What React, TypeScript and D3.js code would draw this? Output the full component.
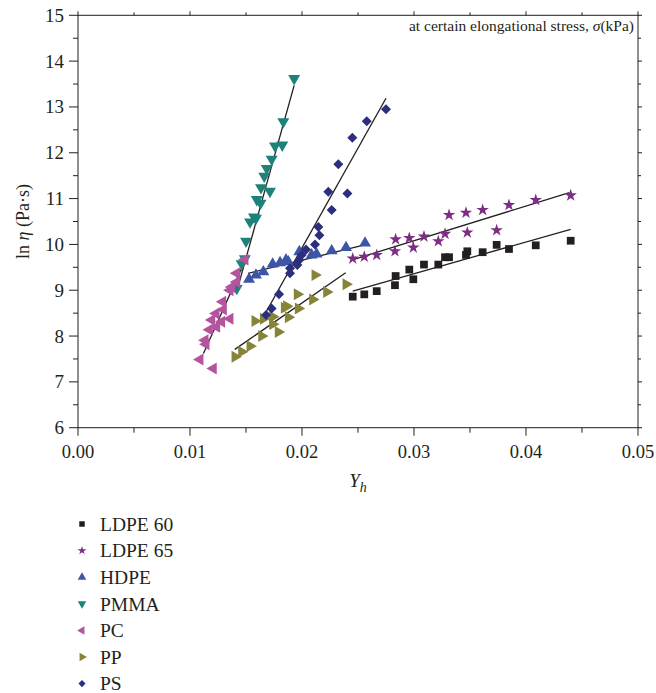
import React, { useEffect, useRef } from 'react';
import * as d3 from 'd3';

// series names, legend order
const seriesNames = ['LDPE 60', 'LDPE 65', 'HDPE', 'PMMA', 'PC', 'PP', 'PS'];

const ldpe60X = [0.02453, 0.02556, 0.02667, 0.0283, 0.02836, 0.02994, 0.02958, 0.03089, 0.03217, 0.03277, 0.03313, 0.03464, 0.03476, 0.03613, 0.03738, 0.03848, 0.04087, 0.04399];
const ldpe60Y = [8.86, 8.91, 8.98, 9.11, 9.31, 9.24, 9.45, 9.56, 9.56, 9.72, 9.72, 9.77, 9.85, 9.83, 9.99, 9.9, 9.98, 10.08];

const ldpe65X = [0.02453, 0.02556, 0.02667, 0.0283, 0.02836, 0.02994, 0.02958, 0.03089, 0.03217, 0.03277, 0.03313, 0.03464, 0.03476, 0.03613, 0.03738, 0.03848, 0.04087, 0.04399];
const ldpe65Y = [9.69, 9.73, 9.77, 9.85, 10.11, 9.93, 10.14, 10.17, 10.07, 10.23, 10.64, 10.69, 10.26, 10.75, 10.31, 10.86, 10.97, 11.07];

const hdpeX = [0.01527, 0.01589, 0.01655, 0.01738, 0.01804, 0.01857, 0.01878, 0.01976, 0.02086, 0.0213, 0.02265, 0.02393, 0.02563];
const hdpeY = [9.24, 9.33, 9.4, 9.57, 9.6, 9.66, 9.62, 9.84, 9.77, 9.79, 9.86, 9.93, 10.03];

const pmmaX = [0.0193, 0.01833, 0.01759, 0.01824, 0.01729, 0.01685, 0.01663, 0.01634, 0.01714, 0.01596, 0.0163, 0.01571, 0.01589, 0.01536, 0.015, 0.0149, 0.01461, 0.01417];
const pmmaY = [13.62, 12.68, 12.15, 12.17, 11.86, 11.66, 11.49, 11.24, 11.16, 10.98, 10.9, 10.6, 10.57, 10.49, 10.07, 9.69, 9.58, 9.04];

const pcX = [0.01491, 0.01417, 0.01417, 0.01357, 0.01372, 0.01292, 0.01298, 0.01232, 0.01194, 0.01357, 0.01283, 0.01238, 0.01173, 0.01134, 0.01143, 0.01089, 0.01208];
const pcY = [9.67, 9.37, 9.18, 9.0, 9.07, 8.75, 8.58, 8.49, 8.35, 8.38, 8.31, 8.2, 8.14, 7.91, 7.82, 7.49, 7.29];

const ppX = [0.02116, 0.01958, 0.0222, 0.02095, 0.01967, 0.01863, 0.01842, 0.01878, 0.01738, 0.01738, 0.01655, 0.0158, 0.01788, 0.0164, 0.01536, 0.01461, 0.01402, 0.02393];
const ppY = [9.33, 8.91, 8.96, 8.8, 8.6, 8.65, 8.62, 8.41, 8.42, 8.26, 8.38, 8.33, 8.09, 8.0, 7.78, 7.66, 7.55, 9.13];

const psX = [0.0275, 0.02578, 0.02449, 0.02324, 0.02405, 0.02235, 0.02265, 0.02146, 0.02155, 0.02116, 0.02036, 0.01997, 0.01976, 0.01958, 0.01893, 0.01893, 0.01795, 0.01729, 0.01679];
const psY = [12.95, 12.69, 12.33, 11.75, 11.11, 11.15, 10.75, 10.38, 10.2, 10.0, 9.89, 9.77, 9.66, 9.55, 9.48, 9.37, 8.91, 8.6, 8.46];

// linear fit endpoints [x0, x1], [y0, y1]
const fitX = [[0.02453, 0.04399], [0.02458, 0.04387], [0.0152, 0.0256], [0.0142, 0.0193], [0.0112, 0.0151], [0.014, 0.0239], [0.0165, 0.0275]];
const fitY = [[8.98, 10.33], [9.67, 11.13], [9.37, 9.99], [9.0, 13.47], [7.62, 9.75], [7.71, 9.38], [8.4, 13.19]];

const xTicks = [0, 0.01, 0.02, 0.03, 0.04, 0.05];
const yTicks = [6, 7, 8, 9, 10, 11, 12, 13, 14, 15];

const colors = ['#231f20', '#7d2d83', '#3d55a6', '#1e827b', '#b5549e', '#858439', '#2c2e7e'];

const W = 656;
const H = 693;
const margin = { left: 78, right: 18, top: 15.3, bottom: 265.3 };
const font = '"Liberation Serif", "DejaVu Serif", serif';

// PS diamonds are squares turned 45 degrees
const symbolTypes = [d3.symbolSquare, d3.symbolStar, d3.symbolTriangle, d3.symbolTriangle, d3.symbolTriangle, d3.symbolTriangle, d3.symbolSquare];
const rotations = [0, 0, 0, 180, -90, 90, 45];
const sizes = [60, 48, 62, 62, 62, 62, 50];

const symbolFor = (i: number, size: number) => d3.symbol().type(symbolTypes[i]).size(size)();

const App = () => {
    const svgRef = useRef<SVGSVGElement | null>(null);

    useEffect(() => {
        if (!svgRef.current) return;
        const svg = d3.select(svgRef.current);
        svg.selectAll('*').remove();

        const x = d3.scaleLinear().domain([0, 0.05]).range([margin.left, W - margin.right]);
        const y = d3.scaleLinear().domain([6, 15]).range([H - margin.bottom, margin.top]);
        const [x0, x1] = x.range();
        const [y0, y1] = y.range();

        const minorX = d3.range(0, 0.0501, 0.005);
        const minorY = d3.range(6, 15.01, 0.5);

        // frame
        svg.append('rect')
            .attr('x', x0).attr('y', y1)
            .attr('width', x1 - x0).attr('height', y0 - y1)
            .attr('fill', 'none').attr('stroke', '#231f20').attr('stroke-width', 1);

        // ticks all around, outward
        const tickG = svg.append('g').attr('stroke', '#231f20').attr('stroke-width', 1);
        minorX.forEach(v => {
            const major = Math.abs(v * 100 - Math.round(v * 100)) < 1e-6;
            tickG.append('line').attr('x1', x(v)).attr('x2', x(v)).attr('y1', y0).attr('y2', y0 + (major ? 8 : 5));
            tickG.append('line').attr('x1', x(v)).attr('x2', x(v)).attr('y1', y1).attr('y2', y1 - (major ? 4 : 3));
        });
        minorY.forEach(v => {
            const major = Number.isInteger(v);
            tickG.append('line').attr('x1', x0 - (major ? 9 : 5)).attr('x2', x0).attr('y1', y(v)).attr('y2', y(v));
            tickG.append('line').attr('x1', x1).attr('x2', x1 + (major ? 4 : 3)).attr('y1', y(v)).attr('y2', y(v));
        });

        // tick labels
        svg.append('g')
            .selectAll('text')
            .data(xTicks)
            .join('text')
            .attr('x', d => x(d))
            .attr('y', y0 + 30)
            .attr('text-anchor', 'middle')
            .attr('fill', '#231f20')
            .style('font-family', font)
            .style('font-size', '18.5px')
            .text(d => d3.format('.2f')(d));

        svg.append('g')
            .selectAll('text')
            .data(yTicks)
            .join('text')
            .attr('x', x0 - 14)
            .attr('y', d => y(d))
            .attr('dy', '0.34em')
            .attr('text-anchor', 'end')
            .attr('fill', '#231f20')
            .style('font-family', font)
            .style('font-size', '19px')
            .text(d => d);

        // axis titles
        const xt = svg.append('text')
            .attr('x', (x0 + x1) / 2)
            .attr('y', y0 + 59)
            .attr('text-anchor', 'middle')
            .attr('fill', '#231f20')
            .style('font-family', font)
            .style('font-size', '19px')
            .style('font-style', 'italic');
        xt.append('tspan').text('Y');
        xt.append('tspan').attr('dy', 5).style('font-size', '14px').text('h');

        const yt = svg.append('text')
            .attr('transform', `translate(29, ${(y0 + y1) / 2}) rotate(-90)`)
            .attr('text-anchor', 'middle')
            .attr('fill', '#231f20')
            .style('font-family', font)
            .style('font-size', '18px');
        yt.append('tspan').text('ln ');
        yt.append('tspan').style('font-style', 'italic').text('η');
        yt.append('tspan').text(' (Pa·s)');

        // annotation
        const ann = svg.append('text')
            .attr('x', x1 - 4)
            .attr('y', y1 + 16)
            .attr('text-anchor', 'end')
            .attr('fill', '#231f20')
            .style('font-family', font)
            .style('font-size', '15.5px');
        ann.append('tspan').text('at certain elongational stress, ');
        ann.append('tspan').style('font-style', 'italic').text('σ');
        ann.append('tspan').text('(kPa)');

        const seriesX = [ldpe60X, ldpe65X, hdpeX, pmmaX, pcX, ppX, psX];
        const seriesY = [ldpe60Y, ldpe65Y, hdpeY, pmmaY, pcY, ppY, psY];

        // fit lines
        fitX.forEach((fx, i) => {
            const pts = fx.map((v, k) => [x(v), y(fitY[i][k])] as [number, number]);
            svg.append('path')
                .attr('d', d3.line()(pts))
                .attr('fill', 'none')
                .attr('stroke', '#231f20')
                .attr('stroke-width', 1.3);
        });

        // markers
        seriesX.forEach((xs, i) => {
            const path = symbolFor(i, sizes[i]);
            svg.append('g')
                .selectAll('path')
                .data(xs.map((v, k) => [v, seriesY[i][k]]))
                .join('path')
                .attr('d', path)
                .attr('transform', d => `translate(${x(d[0])},${y(d[1])}) rotate(${rotations[i]})`)
                .attr('fill', colors[i]);
        });

        // legend
        const legend = svg.append('g').attr('transform', `translate(82, 524)`);
        seriesNames.forEach((name, i) => {
            const row = legend.append('g').attr('transform', `translate(0, ${i * 26.6})`);
            row.append('path')
                .attr('d', symbolFor(i, sizes[i] * 0.5))
                .attr('transform', `rotate(${rotations[i]})`)
                .attr('fill', colors[i]);
            row.append('text')
                .attr('x', 18)
                .attr('y', 0)
                .attr('dy', '0.35em')
                .attr('fill', '#231f20')
                .style('font-family', font)
                .style('font-size', '19.5px')
                .text(name);
        });
    }, []);

    return (
        <svg
            ref={svgRef}
            width={W}
            height={H}
            style={{ position: 'absolute', left: 0, top: 0, background: '#fff' }}
        />
    );
};

export default App;
